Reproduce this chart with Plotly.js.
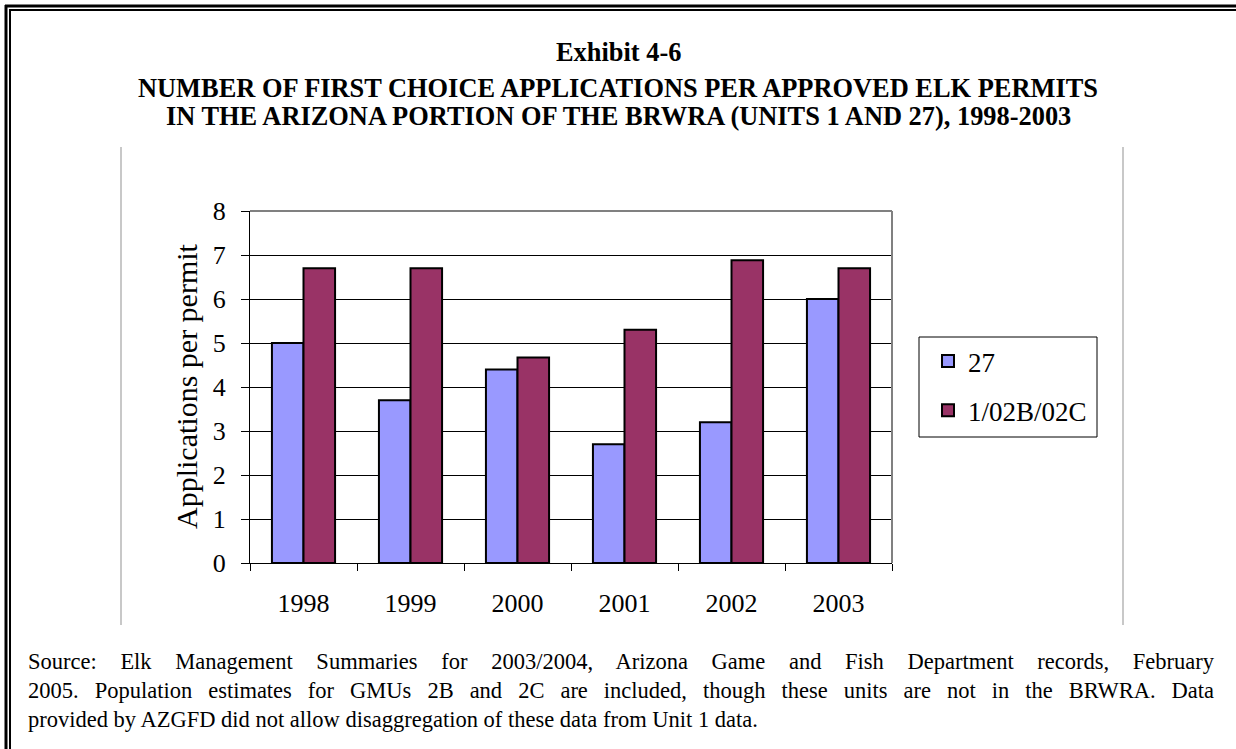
<!DOCTYPE html>
<html>
<head>
<meta charset="utf-8">
<script src="https://cdn.plot.ly/plotly-3.0.1.min.js"></script>
<style>
  html, body { margin: 0; padding: 0; background: #fff; }
  #chart { width: 1236px; height: 749px; }
</style>
</head>
<body>
<div id="chart"></div>
<script>
const years = ['1998', '1999', '2000', '2001', '2002', '2003'];
const unit27 = [5.0, 3.7, 4.4, 2.7, 3.2, 6.0];
const unit1 = [6.7, 6.7, 4.67, 5.3, 6.88, 6.7];
const seriesNames = ['27', '1/02B/02C'];
const exhibitLabel = 'Exhibit 4-6';
const titleLines = [
  'NUMBER OF FIRST CHOICE APPLICATIONS PER APPROVED ELK PERMITS',
  'IN THE ARIZONA PORTION OF THE BRWRA (UNITS 1 AND 27), 1998-2003'
];
const yTitle = 'Applications per permit';
const sourceLines = [
  'Source: Elk Management Summaries for 2003/2004, Arizona Game and Fish Department records, February',
  '2005. Population estimates for GMUs 2B and 2C are included, though these units are not in the BRWRA. Data',
  'provided by AZGFD did not allow disaggregation of these data from Unit 1 data.'
];

// pixel geometry helpers (plot area: x 250..892, y 211..563)
const PL = 250, PR = 892, PT = 211, PB = 563;
const px2x = p => (p - PL) / (PR - PL);
const px2y = p => (PB - p) / (PB - PT);

const FONT = '"Liberation Serif", "Times New Roman", serif';

const traces = [
  {
    type: 'bar', x: years, y: unit27, name: seriesNames[0],
    legendgroup: 'a',
    marker: { color: '#9999FF', line: { color: '#000', width: 2 } },
    hoverinfo: 'x+y'
  },
  {
    type: 'bar', x: years, y: unit1, name: seriesNames[1],
    legendgroup: 'b',
    marker: { color: '#993366', line: { color: '#000', width: 2 } },
    hoverinfo: 'x+y'
  }
];

const annotations = [
  { text: '<b>' + exhibitLabel + '</b>', x: px2x(618), y: px2y(52), font: { size: 26.4 } },
  { text: '<b>' + titleLines[0] + '</b>', x: px2x(618), y: px2y(88), font: { size: 26.4 } },
  { text: '<b>' + titleLines[1] + '</b>', x: px2x(618), y: px2y(116), font: { size: 26.4 } },
  { text: yTitle, x: px2x(186), y: px2y(386), textangle: -90, font: { size: 30 } },
];
const srcY = [661, 690, 719];
sourceLines.forEach((t, i) => {
  annotations.push({
    text: t, x: px2x(26), y: px2y(srcY[i]), xanchor: 'left', align: 'left',
    font: { size: 22.5 }
  });
});
annotations.forEach(a => {
  a.xref = 'paper'; a.yref = 'paper'; a.showarrow = false;
  if (!a.xanchor) a.xanchor = 'center';
  a.yanchor = 'middle';
  a.font = Object.assign({ family: FONT, color: '#000' }, a.font);
});

const shapes = [
  // plot area top & right (gray)
  { type: 'line', xref: 'paper', yref: 'paper', x0: 0, x1: 1, y0: 1, y1: 1, line: { color: '#808080', width: 2 } },
  { type: 'line', xref: 'paper', yref: 'paper', x0: 1, x1: 1, y0: 0, y1: 1, line: { color: '#808080', width: 2 } },
  // chart area side lines
  { type: 'line', xref: 'paper', yref: 'paper', x0: px2x(121), x1: px2x(121), y0: px2y(147), y1: px2y(625), line: { color: '#c8c8c8', width: 2 } },
  { type: 'line', xref: 'paper', yref: 'paper', x0: px2x(1123), x1: px2x(1123), y0: px2y(147), y1: px2y(625), line: { color: '#c8c8c8', width: 2 } },
  // legend box
  { type: 'rect', xref: 'paper', yref: 'paper', x0: px2x(919), x1: px2x(1097), y0: px2y(337), y1: px2y(437), line: { color: '#000', width: 1 } },
  // page double border (left & top)
  { type: 'line', xref: 'paper', yref: 'paper', x0: px2x(6), x1: px2x(6), y0: px2y(5), y1: px2y(760), line: { color: '#000', width: 3 } },
  { type: 'line', xref: 'paper', yref: 'paper', x0: px2x(10), x1: px2x(10), y0: px2y(9), y1: px2y(760), line: { color: '#000', width: 2 } },
  { type: 'line', xref: 'paper', yref: 'paper', x0: px2x(5), x1: px2x(1240), y0: px2y(6), y1: px2y(6), line: { color: '#000', width: 3 } },
  { type: 'line', xref: 'paper', yref: 'paper', x0: px2x(9), x1: px2x(1240), y0: px2y(10), y1: px2y(10), line: { color: '#000', width: 2 } },
];

const layout = {
  width: 1236, height: 749,
  margin: { l: PL, r: 1236 - PR, t: PT, b: 749 - PB, pad: 0 },
  paper_bgcolor: '#fff', plot_bgcolor: '#fff',
  font: { family: FONT, color: '#000', size: 26 },
  barmode: 'group', bargap: 0.41, bargroupgap: 0,
  showlegend: true,
  legend: {
    x: px2x(928), y: px2y(337), xanchor: 'left', yanchor: 'top',
    bgcolor: 'rgba(0,0,0,0)', borderwidth: 0,
    font: { family: FONT, size: 27, color: '#000' },
    traceorder: 'grouped', tracegroupgap: 11
  },
  xaxis: {
    type: 'category', range: [-0.5, 5.5], fixedrange: true,
    showline: true, linecolor: '#000', linewidth: 1,
    ticks: 'outside', tickson: 'boundaries', ticklen: 7, tickcolor: '#000', tickwidth: 1,
    ticklabelstandoff: 17,
    tickfont: { family: FONT, size: 26 }, showgrid: false, zeroline: false
  },
  yaxis: {
    range: [0, 8], dtick: 1, tick0: 0, fixedrange: true,
    showline: true, linecolor: '#000', linewidth: 1,
    ticks: 'outside', ticklen: 8, tickcolor: '#000', tickwidth: 1,
    ticklabelstandoff: 10,
    tickfont: { family: FONT, size: 26 },
    showgrid: true, gridcolor: '#000', gridwidth: 1, zeroline: false
  },
  annotations: annotations,
  shapes: shapes
};

Plotly.newPlot('chart', traces, layout, { displayModeBar: false }).then(() => {
  // justify the first two footnote lines to span the page text width
  const target = 1212 - 26;
  document.querySelectorAll('.annotation-text').forEach(el => {
    const t = el.textContent;
    if (t === sourceLines[0] || t === sourceLines[1]) {
      const len = el.getComputedTextLength();
      const spaces = (t.match(/ /g) || []).length;
      if (spaces > 0 && len < target) {
        el.setAttribute('word-spacing', ((target - len) / spaces).toFixed(2));
      }
    }
  });
});
</script>
</body>
</html>
